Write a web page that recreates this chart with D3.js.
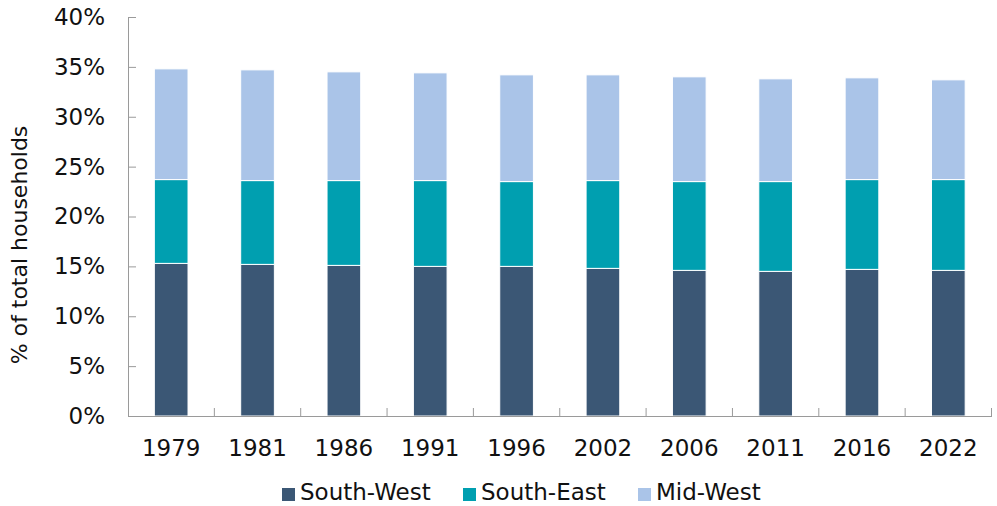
<!DOCTYPE html>
<html>
<head>
<meta charset="utf-8">
<script src="https://cdn.jsdelivr.net/npm/d3@7"></script>
<style>
  html, body { margin: 0; padding: 0; background: #fff; }
  svg { display: block; font-family: "DejaVu Sans", Verdana, sans-serif; }
</style>
</head>
<body>
<svg id="chart" width="997" height="506"></svg>
<script>
// Share of total households by region, census years
const years = ["1979", "1981", "1986", "1991", "1996", "2002", "2006", "2011", "2016", "2022"];
const southWest = [0.153, 0.152, 0.151, 0.150, 0.150, 0.148, 0.146, 0.145, 0.147, 0.146];
const southEast = [0.084, 0.084, 0.085, 0.086, 0.085, 0.088, 0.089, 0.090, 0.090, 0.091];
const midWest   = [0.111, 0.111, 0.109, 0.108, 0.107, 0.106, 0.105, 0.103, 0.102, 0.100];
const seriesNames = ["South-West", "South-East", "Mid-West"];
const yTicks = [0, 0.05, 0.10, 0.15, 0.20, 0.25, 0.30, 0.35, 0.40];

const colors = { "South-West": "#3b5775", "South-East": "#009fb0", "Mid-West": "#aac4e8" };

const rows = years.map((yr, i) => ({
  year: yr,
  "South-West": southWest[i],
  "South-East": southEast[i],
  "Mid-West": midWest[i]
}));

const svg = d3.select("#chart");
const plotLeft = 128, plotRight = 991.5, plotTop = 17, plotBottom = 416;
const fontSize = 23;

const x = d3.scaleBand().domain(years).range([plotLeft, plotRight]).padding(0);
const y = d3.scaleLinear().domain([0, 0.4]).range([plotBottom, plotTop]);

const stacked = d3.stack().keys(seriesNames)(rows);
const barW = x.step() * 0.39;

// Stacked bars
svg.append("g")
  .selectAll("g")
  .data(stacked)
  .join("g")
    .attr("fill", d => colors[d.key])
  .selectAll("rect")
  .data(d => d)
  .join("rect")
    .attr("x", d => x(d.data.year) + (x.bandwidth() - barW) / 2)
    .attr("y", d => y(d[1]))
    .attr("width", barW)
    .attr("height", d => y(d[0]) - y(d[1]))
    .attr("stroke", "#fff")
    .attr("stroke-width", 1);

// Y axis with inside ticks
const yAxis = svg.append("g")
  .attr("transform", `translate(${plotLeft},0)`)
  .call(d3.axisLeft(y).tickValues(yTicks).tickFormat(d3.format(".0%"))
    .tickSize(-8).tickSizeOuter(0).tickPadding(23));
yAxis.select(".domain").attr("stroke", "#9a9a9a");
yAxis.selectAll(".tick line").attr("stroke", "#9a9a9a");
yAxis.selectAll("text")
  .attr("font-size", fontSize)
  .attr("font-family", "DejaVu Sans, Verdana, sans-serif")
  .attr("fill", "#111");

// X axis: labels centred on bars, tick marks between categories
const xAxis = svg.append("g")
  .attr("transform", `translate(0,${plotBottom})`)
  .call(d3.axisBottom(x).tickSize(0).tickSizeOuter(0).tickPadding(24));
xAxis.select(".domain").attr("stroke", "#9a9a9a");
xAxis.selectAll("text")
  .attr("font-size", fontSize)
  .attr("font-family", "DejaVu Sans, Verdana, sans-serif")
  .attr("fill", "#111");

const boundaries = years.slice(1).map(d => x(d)).concat([plotRight]);
svg.append("g")
  .selectAll("line")
  .data(boundaries)
  .join("line")
    .attr("x1", d => d).attr("x2", d => d)
    .attr("y1", plotBottom).attr("y2", plotBottom - 8)
    .attr("stroke", "#9a9a9a");

// Y axis title
svg.append("text")
  .attr("transform", `translate(27,245) rotate(-90)`)
  .attr("text-anchor", "middle")
  .attr("font-size", 22)
  .attr("fill", "#111")
  .text("% of total households");

// Legend
const legendX = [282, 463, 638];
const legend = svg.append("g")
  .selectAll("g")
  .data(seriesNames)
  .join("g")
    .attr("transform", (d, i) => `translate(${legendX[i]},0)`);
legend.append("rect")
  .attr("x", 0).attr("y", 488)
  .attr("width", 13).attr("height", 13)
  .attr("fill", d => colors[d]);
legend.append("text")
  .attr("x", 18).attr("y", 500)
  .attr("font-size", fontSize)
  .attr("fill", "#111")
  .text(d => d);
</script>
</body>
</html>
